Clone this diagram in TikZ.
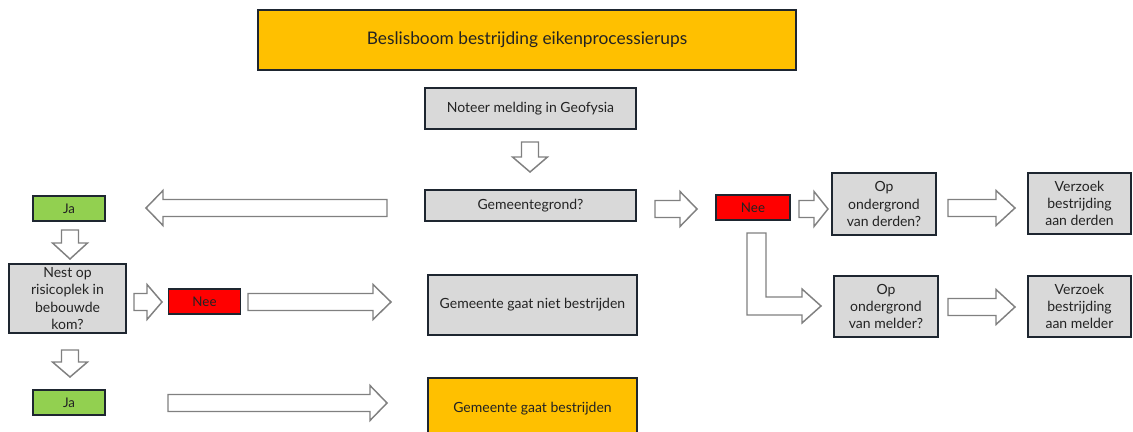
\documentclass[tikz,border=0pt]{standalone}
\usepackage{fontspec}
\setmainfont{Lato}
\usetikzlibrary{positioning,calc}
\newcommand\pix{0.75pt}
\definecolor{clrBorders}{RGB}{30,38,48}
\definecolor{clrGrijs}{RGB}{217,217,217}
\definecolor{clrOranje}{RGB}{255,192,0}
\definecolor{clrGroen}{RGB}{146,208,80}
\definecolor{clrRood}{RGB}{255,0,0}
\definecolor{clrPijl}{RGB}{128,128,128}
\definecolor{clrTekst}{RGB}{35,35,35}
\tikzstyle{box_style}=[draw=clrBorders, line width=1.3pt, anchor=center, align=center, inner sep=0pt, text=clrTekst, font=\fontsize{10.5}{13}\selectfont]
\tikzstyle{vraag}=[box_style, fill=clrGrijs]
\tikzstyle{besluit}=[box_style, fill=clrOranje]
\tikzstyle{ja}=[box_style, fill=clrGroen, minimum width=72*\pix, minimum height=25*\pix, font=\fontsize{10}{12}\selectfont]
\tikzstyle{nee}=[ja, fill=clrRood]
\tikzstyle{blokpijl}=[draw=clrPijl, fill=white, line width=1.1pt, line join=miter]
% block arrows: tail, tip, axis, head length
\newcommand\hpijl[4]{\draw[blokpijl] (#1,{#3-8.5}) -- ({#2-(#4)},{#3-8.5}) -- ({#2-(#4)},{#3-17.5}) -- (#2,#3) -- ({#2-(#4)},{#3+17.5}) -- ({#2-(#4)},{#3+8.5}) -- (#1,{#3+8.5}) -- cycle;}
\newcommand\vpijl[4]{\draw[blokpijl] ({#3-8.5},#1) -- ({#3-8.5},{#2-(#4)}) -- ({#3-17.5},{#2-(#4)}) -- (#3,#2) -- ({#3+17.5},{#2-(#4)}) -- ({#3+8.5},{#2-(#4)}) -- ({#3+8.5},#1) -- cycle;}

\begin{document}
\begin{tikzpicture}[x=0.75pt, y=-0.75pt]
	\clip (0,0) rectangle (1133,432);

	\node[besluit, minimum width=538*\pix, minimum height=60*\pix, font=\fontsize{13}{15}\selectfont] (titel) at (527,40) {Beslisboom bestrijding eikenprocessierups};

	\node[vraag, minimum width=211*\pix, minimum height=41*\pix] (melding) at (530.5,108.5) {Noteer melding in Geofysia};
	\vpijl{142}{172}{530}{15}

	\node[vraag, minimum width=211*\pix, minimum height=31*\pix] (grond) at (530.5,205.5) {Gemeentegrond?};
	\hpijl{387}{146}{208}{-17}
	\hpijl{655}{697}{209}{17}

	% ja-tak
	\node[ja] (ja1) at (69,208.5) {Ja};
	\vpijl{230}{259}{70}{16}
	\node[vraag, minimum width=117*\pix, minimum height=69*\pix] (nest) at (67.5,298.5) {Nest op\\risicoplek in\\bebouwde\\kom?};
	\hpijl{134}{162}{302}{15}
	\node[nee] (nee1) at (204.5,301.5) {Nee};
	\hpijl{248}{391}{302}{18}
	\node[vraag, minimum width=209*\pix, minimum height=60*\pix] (niet) at (532.5,305) {Gemeente gaat niet bestrijden};
	\vpijl{350}{377}{70}{15}
	\node[ja] (ja2) at (69,402.5) {Ja};
	\hpijl{168}{387}{403}{17}
	\node[besluit, minimum width=209*\pix, minimum height=62*\pix] (wel) at (532.5,409) {Gemeente gaat bestrijden};

	% nee-tak
	\node[nee, minimum width=74*\pix] (nee2) at (753,207.5) {Nee};
	\hpijl{799}{828}{209}{14}
	\node[vraag, minimum width=104*\pix, minimum height=62*\pix] (derden) at (884,204) {Op\\ondergrond\\van derden?};
	\hpijl{948}{1015}{208}{19}
	\node[vraag, minimum width=103*\pix, minimum height=61*\pix] (vderden) at (1079.5,203.5) {Verzoek\\bestrijding\\aan derden};
	\draw[blokpijl] (747,233) -- (766,233) -- (766,297) -- (802,297) -- (802,289) -- (821,306) -- (802,323) -- (802,315) -- (747,315) -- cycle;
	\node[vraag, minimum width=104*\pix, minimum height=61*\pix] (melder) at (886,306.5) {Op\\ondergrond\\van melder?};
	\hpijl{948}{1015}{307}{19}
	\node[vraag, minimum width=103*\pix, minimum height=61*\pix] (vmelder) at (1079.5,306.5) {Verzoek\\bestrijding\\aan melder};
\end{tikzpicture}
\end{document}
